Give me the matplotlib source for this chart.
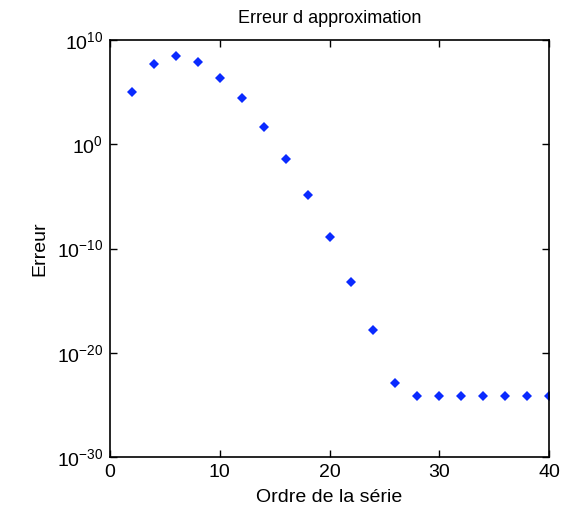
import matplotlib
matplotlib.use("Agg")
import matplotlib.pyplot as plt
import matplotlib.ticker as mticker
import numpy as np

# series order and log10 of the error
ordre = [2, 4, 6, 8, 10, 12, 14, 16, 18, 20, 22, 24, 26, 28, 30, 32, 34, 36, 38, 40]
log_erreur = [5.0, 7.7, 8.5, 7.9, 6.4, 4.4, 1.7, -1.45, -4.9, -8.85,
              -13.2, -17.8, -22.9, -24.1, -24.1, -24.1, -24.1, -24.1, -24.1, -24.1]
xticks = [0, 10, 20, 30, 40]
yticks = [1e-30, 1e-20, 1e-10, 1e0, 1e10]

plt.rcParams['font.family'] = ['Liberation Sans', 'DejaVu Sans']
plt.rcParams['mathtext.fontset'] = 'custom'
plt.rcParams['mathtext.rm'] = 'Liberation Sans'

fig = plt.figure(figsize=(5.68, 5.15), dpi=100)
ax = fig.add_axes([0.1937, 0.1126, 0.7729, 0.8097])

erreur = 10.0 ** np.array(log_erreur)
ax.semilogy(ordre, erreur, linestyle='none', marker='D', markersize=5,
            color='#0a2aff', markeredgewidth=0)

ax.set_xlim(0, 40)
ax.set_ylim(1e-30, 1e10)
ax.set_xticks(xticks)
ax.set_yticks(yticks)
ax.yaxis.set_minor_locator(mticker.NullLocator())
ax.tick_params(direction='in', top=True, right=True, length=5, width=1,
               labelsize=14, pad=5)
for s in ax.spines.values():
    s.set_linewidth(1.2)

ax.set_title("Erreur d approximation", fontsize=13, pad=12)
ax.set_xlabel("Ordre de la série", fontsize=14, labelpad=6)
ax.set_ylabel("Erreur", fontsize=14, labelpad=6)

fig.savefig("out.png", dpi=100)
